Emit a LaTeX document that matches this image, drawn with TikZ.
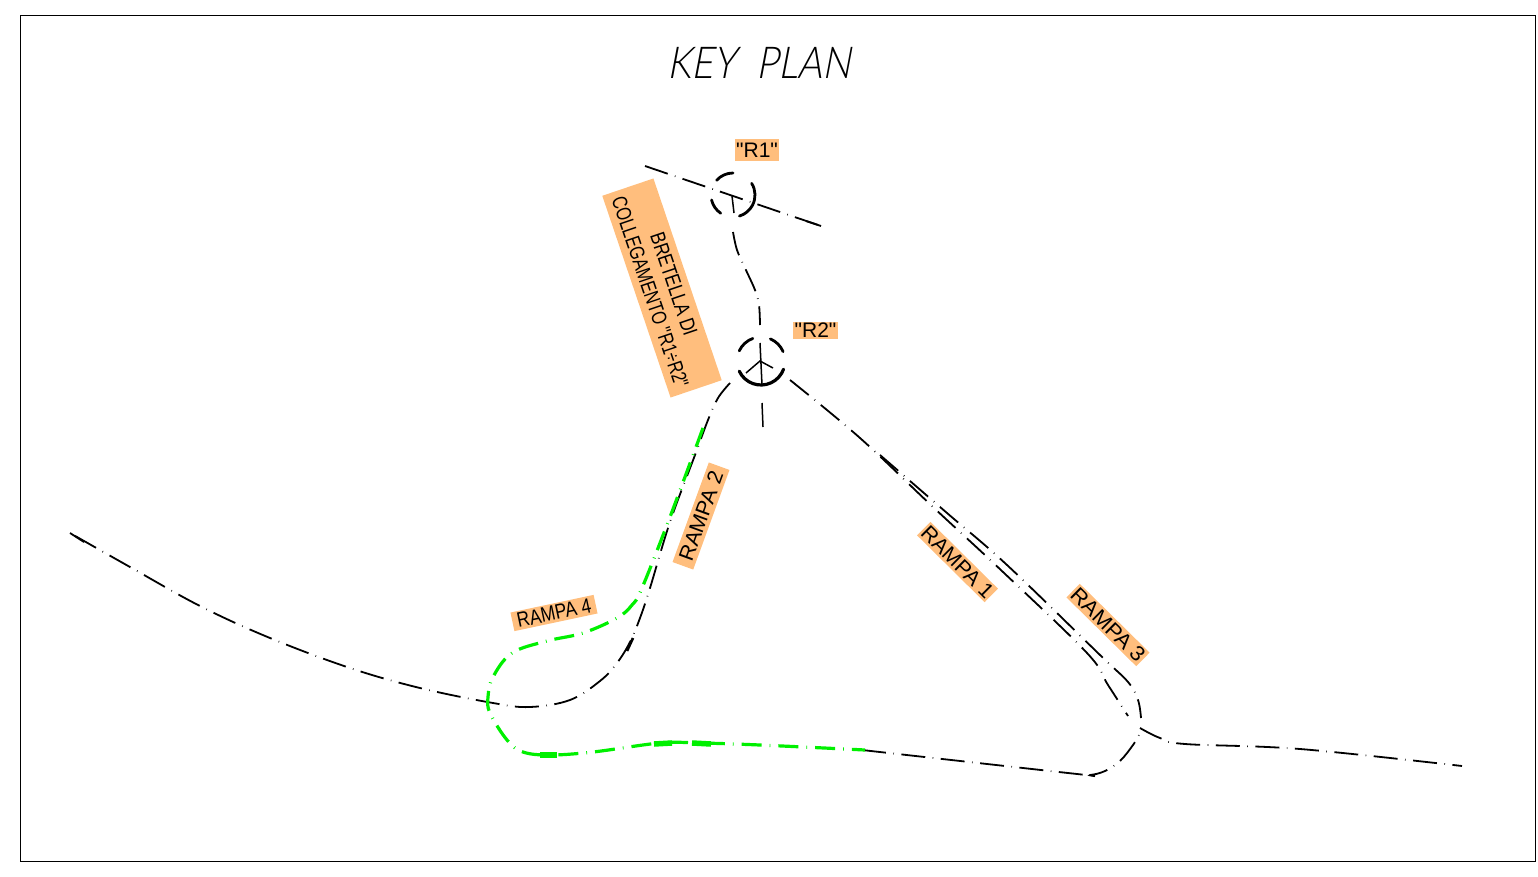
\documentclass[tikz,border=0pt]{standalone}
\usepackage{graphicx}
\usepackage{fontspec}
\setmainfont{Liberation Sans}
\newfontfamily\tagfont{Liberation Sans}
\newfontfamily\titlefont{Lato Light}[FakeSlant=0.22]
\definecolor{tagorange}{HTML}{FFBE7D}
\definecolor{rampgreen}{HTML}{00F000}
\tikzset{
  x=1pt,y=-1pt,
  roadline/.style={draw=black,line width=1.8pt,dash pattern=on 24pt off 7.5pt on 0.6pt off 7.5pt},
  roadstub/.style={draw=black,line width=1.8pt},
  greenroad/.style={draw=rampgreen,line width=3.2pt,dash pattern=on 20pt off 8pt on 0.8pt off 8pt},
  greenblob/.style={draw=rampgreen,line width=5.5pt},
  ringarc/.style={draw=black,line width=2.8pt,line cap=round},
  stem/.style={draw=black,line width=1.5pt},
  tag/.style={fill=tagorange,inner sep=0pt,align=center,text=black,font=\tagfont\fontsize{21}{25}\selectfont},
}
\begin{document}
\begin{tikzpicture}
\useasboundingbox (0,0) rectangle (1538,877);
\draw[black,line width=1pt] (20,16) rectangle (1535,861);
\node[inner sep=0pt] (title) at (759,63) {\titlefont\fontsize{44}{50}\selectfont\scalebox{0.86}[1]{KEY\ \ PLAN}};

% tags
\node[tag,minimum width=44pt,minimum height=22pt] (r1) at (757,150) {\scalebox{1}[1]{"R1"}};
\node[tag,minimum width=45pt,minimum height=17pt] (r2) at (815.5,330) {\scalebox{1}[1]{"R2"}};
\node[tag,rotate=-71.3,minimum width=213pt,minimum height=54pt] (bret) at (662,288)
  {\scalebox{0.8}[1]{BRETELLA DI}\\\scalebox{0.77}[1]{COLLEGAMENTO "R1÷R2"}};
\node[tag,rotate=70,minimum width=106pt,minimum height=22pt] (ramp2) at (701,516) {\scalebox{1.03}[1]{RAMPA 2}};
\node[tag,rotate=12,minimum width=85pt,minimum height=19pt] (ramp4) at (554,613) {\scalebox{0.83}[1]{RAMPA 4}};
\node[tag,rotate=-44.7,minimum width=95pt,minimum height=19pt] (ramp1) at (957.5,562) {\scalebox{1.02}[1]{RAMPA 1}};
\node[tag,rotate=-44.6,minimum width=98pt,minimum height=19pt] (ramp3) at (1108,625) {\scalebox{1.05}[1]{RAMPA 3}};

% R1 roundabout (y axis points down: angles are written negated)
\coordinate (c1) at (733,195);
\draw[ringarc] ([shift={(-138:22)}]c1) arc[start angle=-138,end angle=-90,radius=22];
\draw[ringarc] ([shift={(-32:22)}]c1) arc[start angle=-32,end angle=73,radius=22];
\draw[ringarc] ([shift={(-193:22)}]c1) arc[start angle=-193,end angle=-236,radius=22];
\draw[roadline] (645,166) -- (821,226);
\draw[roadstub] (806,221) -- (821,226);
\draw[stem] (732,196) -- (734,213);

% R2 roundabout
\coordinate (c2) at (761,361);
\draw[ringarc,line width=3.2pt] ([shift={(-205:24)}]c2) arc[start angle=-205,end angle=-340,radius=24];
\draw[ringarc] ([shift={(-155:24)}]c2) arc[start angle=-155,end angle=-110,radius=24];
\draw[ringarc] ([shift={(-67:24)}]c2) arc[start angle=-67,end angle=-23,radius=24];
\draw[stem] (760,343) -- (762,385);
\draw[stem] (746,373) -- (760,361) -- (773,368);
\draw[stem] (762,403) -- (763,427);

% link between R1 and R2
\draw[roadline] plot[smooth,tension=0.6] coordinates {(733,232) (737,250) (745,268) (755,290) (759,305) (760,325)};

% main road left + ramp 2
\draw[roadline] plot[smooth,tension=0.6] coordinates {(730,383) (718,398) (708,420) (695,455) (670,522) (650,588) (640,618) (630,642) (617,663) (600,681) (570,700) (530,707) (493,703) (420,688) (350,668) (270,638) (200,606) (130,567) (70,533)};
\draw[roadstub] (70,533) -- (84,542);
\draw[stem,line width=2.6pt] (633,638) -- (627,651);

% ramp 1 / ramp 3 / right part
\draw[roadline] plot[smooth,tension=0.6] coordinates {(790,380) (860,438) (933,507) (1003,572) (1087,653) (1108,685) (1128,716)};
\draw[roadline] plot[smooth,tension=0.6] coordinates {(880,455) (947,513) (1007,565) (1100,655) (1128,682) (1138,700) (1141,718)};
\draw[roadline] plot[smooth,tension=0.6] coordinates {(1140,728) (1160,738) (1185,744) (1300,749) (1462,766)};
\draw[roadline] plot[smooth,tension=0.6] coordinates {(862,750) (1077,774) (1090,775) (1105,771) (1120,761) (1133,745) (1139,735)};

% green ramp 4
\draw[greenroad] plot[smooth,tension=0.6] coordinates {(703,428) (670,517) (642,588) (632,605) (617,618) (583,633) (547,641) (512,653) (493,677) (488,697) (490,713) (507,740) (523,752) (550,755) (593,752) (660,743) (700,743) (760,745) (865,750)};
\draw[greenblob] (540,755) -- (557,755);
\draw[greenblob] (654,744) -- (672,743);
\draw[greenblob] (692,743) -- (711,744);
\end{tikzpicture}
\end{document}
